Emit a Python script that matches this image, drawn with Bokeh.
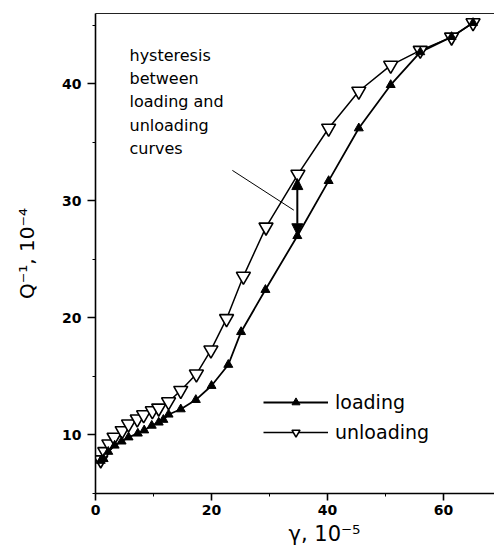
from bokeh.plotting import figure
from bokeh.models import FixedTicker, Label, Arrow, NormalHead, LinearAxis, Title
from bokeh.embed import file_html
from bokeh.resources import INLINE

# ---- data ----
load_x = [0.9, 1.4, 2.2, 3.3, 4.5, 5.7, 7.3, 8.4, 9.7, 10.9, 11.7, 12.6, 14.7, 17.3, 20.0, 22.9, 25.1, 29.3, 34.8, 40.2, 45.4, 50.9, 56.0, 61.4, 65.1]
load_y = [7.8, 7.95, 8.57, 9.1, 9.45, 9.8, 10.13, 10.4, 10.8, 11.07, 11.3, 11.75, 12.2, 13.0, 14.2, 16.0, 18.8, 22.4, 27.0, 31.7, 36.2, 39.9, 42.7, 44.0, 45.2]

unl_x = [0.9, 1.6, 2.3, 3.2, 4.6, 5.7, 7.2, 8.3, 9.8, 10.9, 12.6, 14.7, 17.4, 19.9, 22.6, 25.5, 29.4, 34.9, 40.2, 45.4, 50.9, 56.0, 61.4, 65.1]
unl_y = [7.87, 8.57, 9.23, 9.8, 10.36, 10.93, 11.36, 11.72, 12.06, 12.29, 12.83, 13.8, 15.2, 17.25, 19.93, 23.55, 27.75, 32.26, 36.2, 39.36, 41.57, 42.85, 43.98, 45.2]

x_ticks = [0, 20, 40, 60]
x_minor = [10, 30, 50]
y_ticks = [10, 20, 30, 40]
y_minor = [5, 15, 25, 35, 45]

x_title = "γ, 10⁻⁵"
y_title = "Q⁻¹, 10⁻⁴"
note_lines = ["hysteresis", "between", "loading and", "unloading", "curves"]

# hysteresis double arrow (x, y from, y to) and pointer line
hyst_x = 34.8
hyst_y = [31.9, 27.1]
pointer_x = [23.6, 34.2]
pointer_y = [32.6, 29.2]

FONT = "DejaVu Sans"

p = figure(width=494, height=550, x_range=(0, 68.8), y_range=(5, 46),
           output_backend="svg", toolbar_location=None,
           min_border_left=95, min_border_right=0, min_border_top=13,
           min_border_bottom=57)
p.grid.visible = False
p.outline_line_color = None
p.background_fill_color = "white"
p.border_fill_color = "white"

for ax, tk, mn, out in ((p.xaxis[0], x_ticks, x_minor, 7), (p.yaxis[0], y_ticks, y_minor, 8)):
    ax.ticker = FixedTicker(ticks=tk, minor_ticks=mn)
    ax.axis_line_width = 1.6
    ax.axis_line_color = "black"
    ax.major_tick_line_width = 1.6
    ax.major_tick_line_color = "black"
    ax.major_tick_out = out
    ax.major_tick_in = 0
    ax.minor_tick_out = 3
    ax.minor_tick_in = 0
    ax.minor_tick_line_color = "black"
    ax.major_label_text_font = FONT
    ax.major_label_text_font_style = "bold"
    ax.major_label_text_font_size = "14px"
    ax.major_label_text_color = "black"

p.xaxis[0].major_label_standoff = 4
p.yaxis[0].major_label_standoff = 6
p.yaxis[0].axis_label = y_title
p.yaxis[0].axis_label_text_font = FONT
p.yaxis[0].axis_label_text_font_size = "20px"
p.yaxis[0].axis_label_text_font_style = "normal"
p.yaxis[0].axis_label_text_color = "black"
p.yaxis[0].axis_label_standoff = 20

top = LinearAxis(ticker=FixedTicker(ticks=[]), major_label_text_font_size="0px",
                 major_tick_out=0, major_tick_in=0, minor_tick_out=0, minor_tick_in=0,
                 major_label_standoff=0, axis_line_width=1.2, axis_line_color="#222222")
p.add_layout(top, "above")

# x-axis title, shifted right of centre as in the reference
p.add_layout(Title(text=x_title, align="left", offset=193, standoff=4,
                   text_font=FONT, text_font_size="21px", text_font_style="normal",
                   text_color="black"), "below")

# curves
p.line(load_x, load_y, line_width=1.8, color="black", legend_label="loading")
p.line(unl_x, unl_y, line_width=1.5, color="black", legend_label="unloading")
p.scatter(unl_x, unl_y, marker="inverted_triangle", size=14, fill_color="white",
          line_color="black", line_width=1.6, legend_label="unloading")
p.scatter(load_x, load_y, marker="triangle", size=9, fill_color="black",
          line_color="black", legend_label="loading")

# annotations
p.add_layout(Arrow(start=NormalHead(size=11, fill_color="black", line_color="black"),
                   end=NormalHead(size=11, fill_color="black", line_color="black"),
                   x_start=hyst_x, y_start=hyst_y[0], x_end=hyst_x, y_end=hyst_y[1],
                   line_width=2, line_color="black"))
p.add_layout(Arrow(end=None, x_start=pointer_x[0], y_start=pointer_y[0],
                   x_end=pointer_x[1], y_end=pointer_y[1], line_width=1, line_color="black"))

p.add_layout(Label(x=5.86, y=43.25, text="\n".join(note_lines), text_font=FONT,
                   text_font_size="16px", text_baseline="top", text_align="left",
                   text_line_height=1.23, text_color="black"))

lg = p.legend[0]
lg.location = (168, 50)
lg.border_line_color = None
lg.background_fill_alpha = 0
lg.glyph_width = 65
lg.glyph_height = 20
lg.label_height = 20
lg.spacing = 8
lg.padding = 0
lg.margin = 0
lg.label_standoff = 7
lg.label_text_font = FONT
lg.label_text_font_size = "19px"
lg.label_text_color = "black"

open("out.html", "w").write(file_html(p, INLINE))
